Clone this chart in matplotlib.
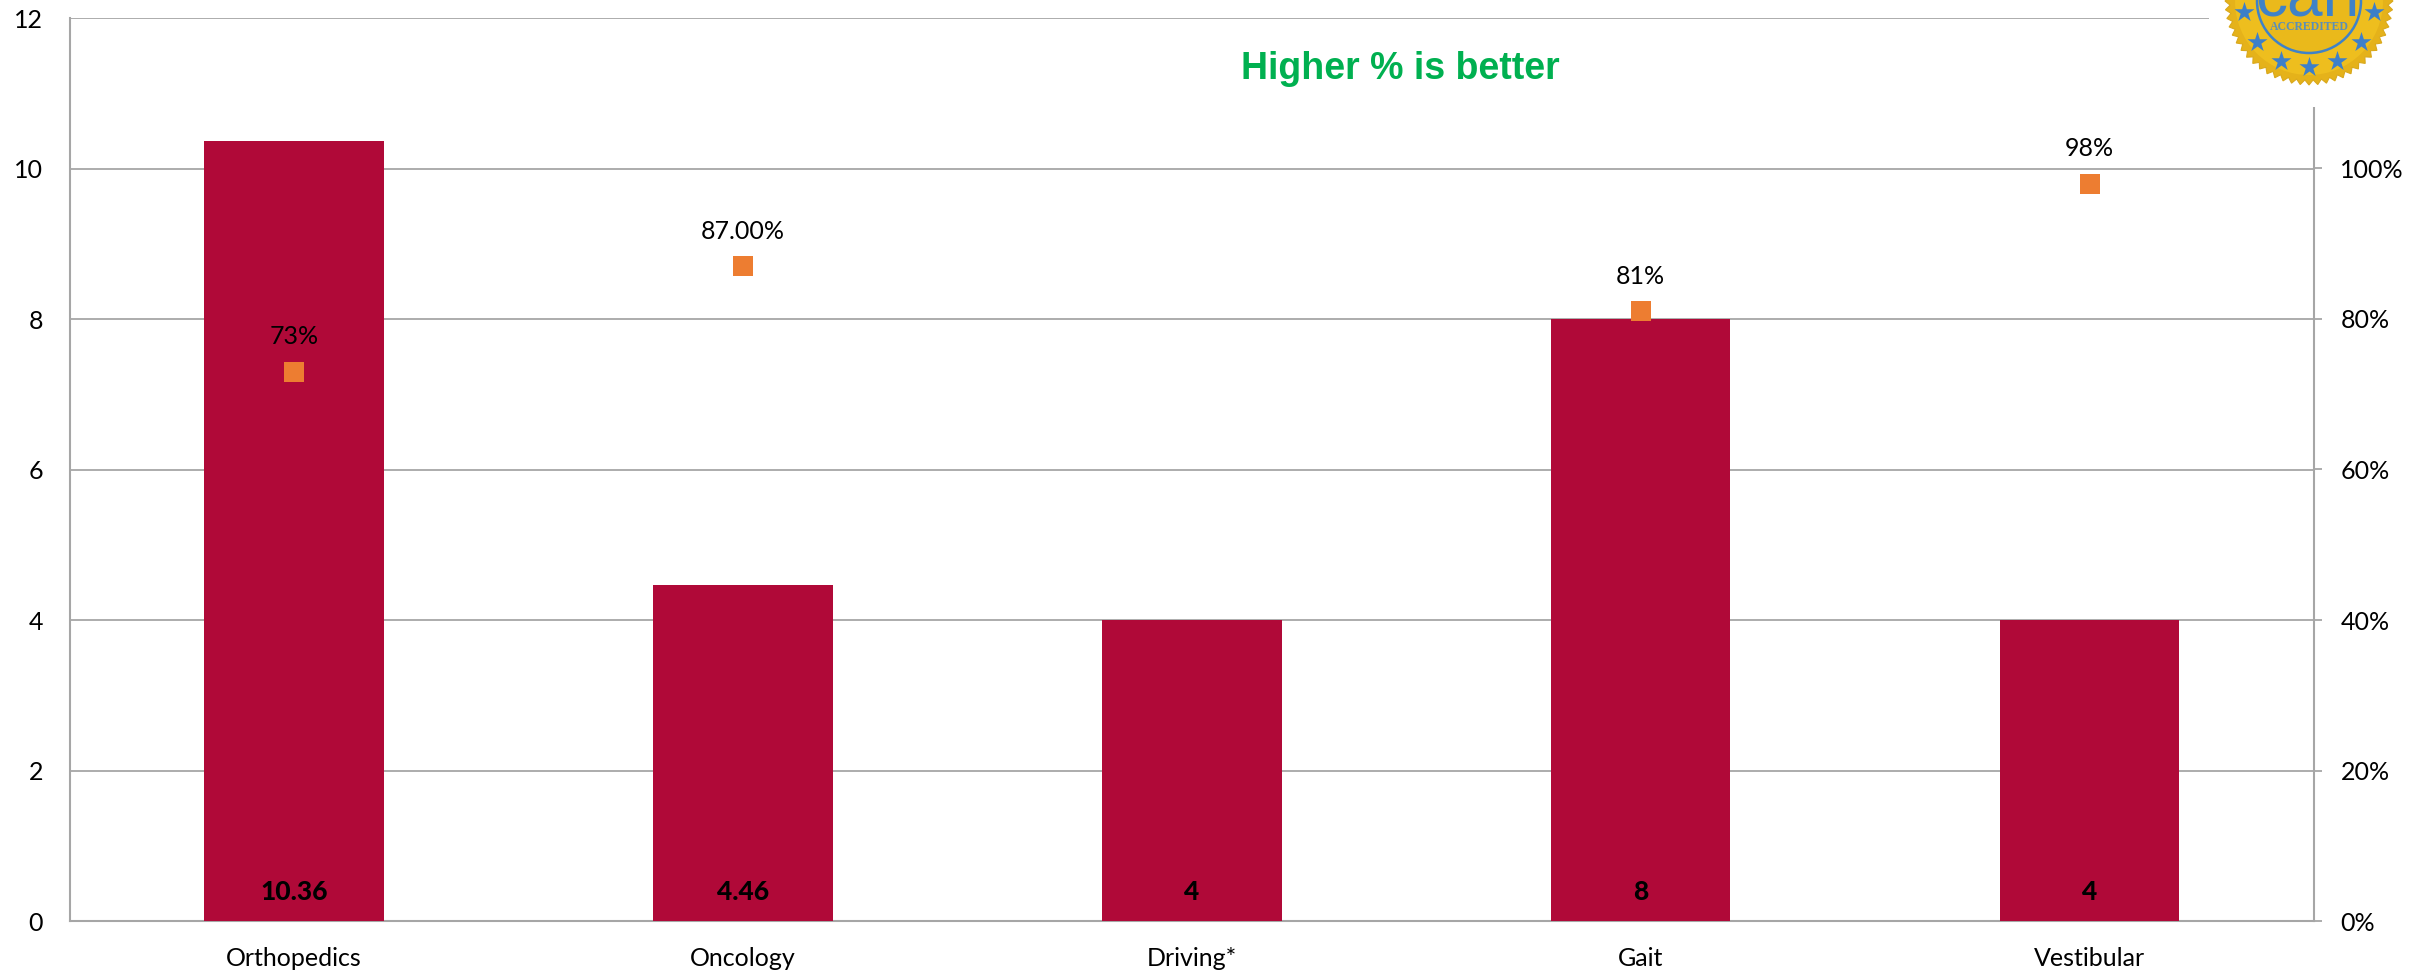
"""Bars with percentage markers on a second axis."""

import numpy as np
import matplotlib
matplotlib.use('Agg')
import matplotlib.pyplot as plt
from matplotlib.patches import Circle, Polygon, Rectangle
from matplotlib.ticker import FuncFormatter

plt.rcParams['font.family'] = ['Lato', 'DejaVu Sans']

categories = ['Orthopedics', 'Oncology', 'Driving*', 'Gait', 'Vestibular']
bar_values = [10.36, 4.46, 4, 8, 4]
bar_labels = ['10.36', '4.46', '4', '8', '4']
pct_positions = [0, 1, 3, 4]
pct_values = [0.73, 0.87, 0.81, 0.98]
pct_labels = ['73%', '87.00%', '81%', '98%']
left_ticks = [0, 2, 4, 6, 8, 10, 12]
right_ticks = [0, 0.2, 0.4, 0.6, 0.8, 1.0]

W, H = 2424, 972
GREY = '#A6A6A6'
TICK_FS = 18


def draw_badge(fig):
    # seal at the top right corner, in pixel coordinates
    bx = fig.add_axes([0, 0, 1, 1], zorder=5)
    bx.set_xlim(0, W)
    bx.set_ylim(H, 0)
    bx.axis('off')
    bx.patch.set_alpha(0)
    bx.add_patch(Rectangle((2209, 0), W - 2209, 107, fc='white', ec='none'))

    cx, cy = 2309, 1
    n_teeth = 60
    angles = np.linspace(0, 2 * np.pi, 2 * n_teeth, endpoint=False)
    radii = np.where(np.arange(2 * n_teeth) % 2 == 0, 84, 79)
    pts = np.column_stack([cx + radii * np.cos(angles), cy + radii * np.sin(angles)])
    bx.add_patch(Polygon(pts, closed=True, fc='#E5B21A', ec='#D9A81C', lw=0.8))
    bx.add_patch(Circle((cx, cy), 74, fc='#EEBE1E', ec='none'))
    bx.add_patch(Circle((cx, cy), 52, fc='#EAB91B', ec='#3F82C8', lw=1.8))

    star_angles = np.radians([10, 38, 65, 90, 115, 142, 170])
    bx.scatter(cx + 66 * np.cos(star_angles), cy + 66 * np.sin(star_angles),
               marker='*', s=230, color='#3D7FC9', linewidths=0, zorder=4)
    bx.text(cx, 27, 'ACCREDITED', ha='center', va='center', fontsize=8.5,
            color='#5A8FB8', family='Liberation Serif', fontweight='bold')
    bx.text(cx, 15, 'carf', ha='center', va='baseline', fontsize=46,
            color='#3F82C8', family='Liberation Sans')


def make_plot():
    fig = plt.figure(figsize=(W / 100, H / 100), dpi=100)
    fig.patch.set_facecolor('white')
    ax = fig.add_axes([69.5 / W, 1 - 921 / H, (2314 - 69.5) / W, (921 - 18) / H])

    x = np.arange(len(categories))
    ax.bar(x, bar_values, width=0.4, color='#B00938', zorder=3)
    for xi, label in zip(x, bar_labels):
        ax.annotate(label, xy=(xi, 0), xytext=(0, 29), textcoords='offset pixels',
                    ha='center', va='center', fontsize=19, fontweight='black',
                    color='black', zorder=4)

    ax.set_xlim(-0.5, 4.5)
    ax.set_ylim(0, 12)
    ax.set_yticks(left_ticks)
    ax.set_xticks(x)
    ax.set_xticklabels(categories)
    ax.tick_params(axis='x', length=0, pad=19, labelsize=TICK_FS)
    ax.tick_params(axis='y', length=0, pad=19, labelsize=TICK_FS)
    ax.grid(axis='y', color=GREY, lw=1.3, zorder=1)
    ax.set_axisbelow(True)
    for side in ['top', 'right']:
        ax.spines[side].set_visible(False)
    for side in ['left', 'bottom']:
        ax.spines[side].set_color(GREY)
        ax.spines[side].set_linewidth(1.5)

    ax2 = ax.twinx()
    ax2.set_ylim(0, 1.2)
    ax2.set_yticks(right_ticks)
    ax2.yaxis.set_major_formatter(FuncFormatter(lambda v, _: '%d%%' % round(v * 100)))
    ax2.tick_params(axis='y', length=6, width=1.3, color=GREY, pad=13, labelsize=TICK_FS)
    for side in ['top', 'left', 'bottom']:
        ax2.spines[side].set_visible(False)
    ax2.spines['right'].set_color(GREY)
    ax2.spines['right'].set_linewidth(1.5)

    ax2.scatter(pct_positions, pct_values, marker='s', s=205, color='#ED7D31',
                linewidths=0, zorder=5)
    for xi, v, label in zip(pct_positions, pct_values, pct_labels):
        ax2.annotate(label, xy=(xi, v), xytext=(0, 35), textcoords='offset pixels',
                     ha='center', va='center', fontsize=TICK_FS, color='black', zorder=6)

    fig.text(1400 / W, 1 - 69 / H, 'Higher % is better', ha='center', va='center',
             fontsize=27, fontweight='bold', color='#00B050', family='Liberation Sans')

    draw_badge(fig)
    fig.savefig('out.png', dpi=100)


if __name__ == '__main__':
    make_plot()
